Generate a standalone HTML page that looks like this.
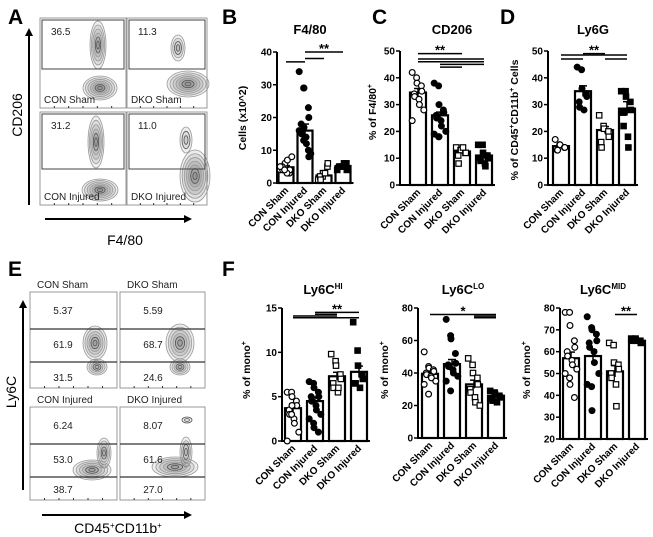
<!DOCTYPE html>
<html><head><meta charset="utf-8"><style>
body{margin:0;background:#fff;}
svg{display:block;font-family:"Liberation Sans",Arial,sans-serif;}
.pl{font-weight:bold;font-size:21px;}
.tk{font-size:10px;font-weight:bold;}
.yt{font-size:10.5px;font-weight:bold;}
.t{font-size:13px;font-weight:bold;}
.fl{font-size:10px;fill:#222;}
.ax{font-size:14px;}
</style></head><body>
<svg id="fig" width="653" height="537" viewBox="0 0 653 537">
<defs><marker id="ar" markerWidth="8" markerHeight="8" refX="6" refY="4" orient="auto" markerUnits="userSpaceOnUse"><path d="M0,0 L8,4 L0,8 z" fill="#000"/></marker></defs>
<text class="pl" x="8" y="24">A</text>
<text class="pl" x="222" y="24">B</text>
<text class="pl" x="372" y="24">C</text>
<text class="pl" x="500" y="24">D</text>
<text class="pl" x="8" y="276">E</text>
<text class="pl" x="222" y="276">F</text>
<g id="flow">
<line x1="29" y1="205" x2="29" y2="30" stroke="#000" stroke-width="2" marker-end="url(#ar)"/>
<line x1="45" y1="219" x2="190" y2="219" stroke="#000" stroke-width="2" marker-end="url(#ar)"/>
<text class="ax" x="22" y="115" text-anchor="middle" transform="rotate(-90 22 115)">CD206</text>
<text class="ax" x="125" y="245" text-anchor="middle">F4/80</text>
<line x1="23" y1="490" x2="23" y2="302" stroke="#000" stroke-width="2" marker-end="url(#ar)"/>
<line x1="42" y1="515" x2="190" y2="515" stroke="#000" stroke-width="2" marker-end="url(#ar)"/>
<text class="ax" x="16" y="392" text-anchor="middle" transform="rotate(-90 16 392)">Ly6C</text>
<text class="ax" x="118" y="533" text-anchor="middle">CD45<tspan font-size="8" dy="-5">+</tspan><tspan dy="5">CD11b</tspan><tspan font-size="8" dy="-5">+</tspan></text>
</g>
<g id="bars"></g>
</svg>
<script>
const categories=["CON Sham","CON Injured","DKO Sham","DKO Injured"];
const bMeans=[4.8,16,2.3,5.2];
const bSem=[0.5,2.0,0.6,0.4];
const bPts=[[4,5,6,3,4,5,4,3,7,8,5,4],[34,29,29,23,20,18,15,14,12,9,16,13,17,10,8],[1,2,3,5,6,2,1,3],[4,5,5,6,4,5,5,6]];
const bTicks=[0,10,20,30,40];
const cMeans=[34.5,26,12.5,11];
const cSem=[1.5,1.2,0.8,0.9];
const cPts=[[42,40,38,37,35,34,33,32,30,28,24],[38,37,30,28,27,26,25,24,22,20,19,18,18],[14,13,13,12,12,11,8,14],[15,15,12,11,10,10,9,8,7]];
const cTicks=[0,10,20,30,40,50];
const dMeans=[14.5,35,20.5,28.5];
const dSem=[0.5,2,1.3,2.6];
const dPts=[[17,15,15,14,14,13,13],[44,43,36,34,33,31,29,28],[26,22,21,20,18,16,14],[35,35,33,31,28,27,22,18,14]];
const dTicks=[0,10,20,30,40,50];
const hiMeans=[3.7,4.5,7.3,7.8];
const hiSem=[0.5,0.45,0.45,0.65];
const hiPts=[[5.5,5.5,5,4.5,4,3.5,3,2.5,2,1,0,3,4],[6.7,6.5,6,5.5,5,5,4.5,4,3.5,3,2.5,2,1.5,1],[9.8,9,8.5,7.5,7,6.5,6,5.5,6],[13.4,10.2,8.5,7.5,7,6.5,6.5,6]];
const hiTicks=[0,5,10,15];
const loMeans=[39.5,45.5,33,26];
const loSem=[1.6,2.8,2.6,0.9];
const loPts=[[53,44,43,42,41,40,39,38,37,35,33,27],[73,63,61,52,46,45,44,42,40,38,35,29],[49,45,40,37,33,30,28,25,22,20],[29,28,27,26,25,24,23,22]];
const loTicks=[0,20,40,60,80];
const midMeans=[57,58,51,65];
const midSem=[2.8,2.8,2.6,0.4];
const midPts=[[78,78,72,65,62,60,58,56,54,52,50,48,45,39],[76,71,70,68,65,64,62,60,55,50,45,44,33],[64,63,55,54,52,50,48,45,35],[66,66,65,65,64,65]];
const midTicks=[20,30,40,50,60,70,80];
const bSig=[[0,1,37,""],[1,3,40,"**"],[1,2,38,""]];
const cSig=[[0,2,49,"**"],[0,3,47,""],[0,3,46,""],[1,3,45,""],[1,2,44,""]];
const dSig=[[0,1,47,""],[0,3,48.5,""],[1,2,49,"**"],[2,3,47,""]];
const hiSig=[[1,3,14.5,"**"],[0,3,13.9,""],[0,2,14.1,""],[1,2,14.3,""]];
const loSig=[[0,3,76,"*"],[2,3,75,""],[2,3,74,""]];
const midSig=[[2,3,77,"**"]];
const aGateValues=["36.5","11.3","31.2","11.0"];
const aSampleLabels=["CON Sham","DKO Sham","CON Injured","DKO Injured"];
const eGateValues=[["5.37","61.9","31.5"],["5.59","68.7","24.6"],["6.24","53.0","38.7"],["8.07","61.6","27.0"]];

const NS="http://www.w3.org/2000/svg";
function mk(parent,tag,attrs){const e=document.createElementNS(NS,tag);for(const k in attrs)e.setAttribute(k,attrs[k]);parent.appendChild(e);return e;}
const barsG=document.getElementById('bars');
const flowG=document.getElementById('flow');

function blob(g,cx,cy,rx,ry,n){
  for(let k=n;k>=1;k--){
    const f=k/n;
    mk(g,'ellipse',{cx:cx,cy:cy,rx:rx*f,ry:ry*f,fill:'rgba(0,0,0,0.07)',stroke:k<=2?'#555':'#999','stroke-width':0.8});
  }
}
function flowBox(x,y,w,h){
  const r=mk(flowG,'rect',{x:x,y:y,width:w,height:h,fill:'#fff',stroke:'#999','stroke-width':1});
  
  
  for(let i=1;i<6;i++){mk(flowG,'line',{x1:x+i*w/6,y1:y+h,x2:x+i*w/6,y2:y+h-2,stroke:'#333','stroke-width':1});}
}
const aBoxes=[[40,18,86,90],[127,18,80,90],[40,112,86,93],[127,112,80,93]];
const aBlobs=[[[98,45,8,24,6],[100,88,17,12,7]],[[178,48,7,13,4],[188,84,21,13,7]],[[96,142,8,26,6],[100,190,18,11,7]],[[195,176,15,26,7],[186,140,6,13,3]]];
aBoxes.forEach((b,i)=>{
  flowBox(b[0],b[1],b[2],b[3]);
  aBlobs[i].forEach(p=>blob(flowG,p[0],p[1],p[2],p[3],p[4]));
  const gate=mk(flowG,'rect',{x:b[0]+2,y:b[1]+2,width:b[2]-4,height:49+(i>1?6:0),fill:'none',stroke:'#444','stroke-width':1});
  
  
  const v=mk(flowG,'text',{x:b[0]+11,y:b[1]+17,class:'fl'});v.textContent=aGateValues[i];
  
  
  const s=mk(flowG,'text',{x:b[0]+4,y:b[1]+b[3]-5,class:'fl'});s.textContent=aSampleLabels[i];
  
  
});
const eBoxes=[[30,292,87,96],[120,292,85,96],[30,407,87,93],[120,407,85,93]];
const eBlobs=[[[95,343,12,17,6],[97,367,10,8,5]],[[180,343,14,19,6],[180,367,10,8,5]],[[104,453,7,15,5],[92,470,19,10,6]],[[186,452,6,15,4],[175,467,23,10,6],[187,420,5,3,2]]];
eBoxes.forEach((b,i)=>{
  flowBox(b[0],b[1],b[2],b[3]);
  eBlobs[i].forEach(p=>blob(flowG,p[0],p[1],p[2],p[3],p[4]));
  const l1=b[1]+37,l2=b[1]+70;
  [l1,l2].forEach(yy=>{const ln=mk(flowG,'line',{x1:b[0],y1:yy,x2:b[0]+b[2],y2:yy,stroke:'#333','stroke-width':1.2});
    
    });
  const ys=[b[1]+22,b[1]+56,b[1]+89-(i>1?3:0)];
  eGateValues[i].forEach((val,k)=>{const t=mk(flowG,'text',{x:b[0]+33,y:ys[k],class:'fl','text-anchor':'middle'});t.textContent=val;
    
    });
  const s=mk(flowG,'text',{x:b[0]+7,y:b[1]-4,class:'fl'});s.textContent=aSampleLabels[i];
  
  
});

function panel(L,means,sem,pts,ticks,sig){
  const g=mk(barsG,'g',{});
  
  
  const ymin=ticks[0],ymax=ticks[ticks.length-1];
  const y=v=>L.y0-(v-ymin)/(ymax-ymin)*(L.y0-L.y1);
  const x=i=>L.x0+L.first+i*L.step;
  const ax=mk(g,'line',{x1:L.x0,y1:L.y0+1,x2:L.x0,y2:L.y1,stroke:'#000','stroke-width':2});
  
  
  const xax=mk(g,'line',{x1:L.x0,y1:L.y0,x2:x(3)+L.bw/2+3,y2:L.y0,stroke:'#000','stroke-width':2});
  
  
  ticks.forEach(t=>{
    mk(g,'line',{x1:L.x0-4,y1:y(t),x2:L.x0,y2:y(t),stroke:'#000','stroke-width':1.5});
    const tx=mk(g,'text',{x:L.x0-5,y:y(t)+3.5,'text-anchor':'end',class:'tk'});
    tx.textContent=t;
    
    
  });
  means.forEach((m,i)=>{
    const r=mk(g,'rect',{x:x(i)-L.bw/2,y:y(m),width:L.bw,height:L.y0-y(m),fill:'#fff',stroke:'#000','stroke-width':2.2});
    
    
    mk(g,'line',{x1:x(i),y1:y(m-sem[i]),x2:x(i),y2:y(m+sem[i]),stroke:'#000','stroke-width':1.5});
    mk(g,'line',{x1:x(i)-4,y1:y(m+sem[i]),x2:x(i)+4,y2:y(m+sem[i]),stroke:'#000','stroke-width':1.5});
    pts[i].forEach((v,j)=>{
      const off=((j%5)-2)*2.4+((j%2)?1:-1);
      const px=x(i)+off,py=y(v);
      const filled=(i%2===1),sq=(i>=2);
      let p;
      if(sq)p=mk(g,'rect',{x:px-2.7,y:py-2.7,width:5.4,height:5.4,fill:filled?'#000':'#fff',stroke:'#000','stroke-width':1.2});
      else p=mk(g,'circle',{cx:px,cy:py,r:2.9,fill:filled?'#000':'#fff',stroke:'#000','stroke-width':1.2});
      
      
    });
    const lx=x(i)+3,ly=L.y0+8;
    const lab=mk(g,'text',{x:lx,y:ly,'text-anchor':'end',class:'tk',transform:`rotate(-45 ${lx} ${ly})`});
    lab.textContent=categories[i];
    
    
  });
  sig.forEach(s=>{
    const ln=mk(g,'line',{x1:x(s[0]),y1:y(s[2]),x2:x(s[1]),y2:y(s[2]),stroke:'#000','stroke-width':1.5});
    
    
    if(s[3]){const st=mk(g,'text',{x:(x(s[0])+x(s[1]))/2,y:y(s[2])+1,'text-anchor':'middle',class:'t'});st.textContent=s[3];
      
      }
  });
  const t=mk(g,'text',{x:L.tx,y:L.ty,'text-anchor':'middle',class:'t'});
  t.innerHTML=L.title;
  
  
  const yl=mk(g,'text',{x:L.yx,y:L.yy,'text-anchor':'middle',class:'yt',transform:`rotate(-90 ${L.yx} ${L.yy})`});
  yl.innerHTML=L.ylab;
  
  
}
const sup=s=>'<tspan dy="-4" font-size="7">'+s+'</tspan>';
panel({name:'chart-f480',x0:277,y0:183,y1:52,first:9,step:19,bw:15,title:'F4/80',tx:310,ty:34,ylab:'Cells (x10^2)',yx:246,yy:118},bMeans,bSem,bPts,bTicks,bSig);
panel({name:'chart-cd206',x0:400,y0:185,y1:51,first:18,step:22,bw:16,title:'CD206',tx:452,ty:34,ylab:'% of F4/80'+sup('+'),yx:376,yy:112},cMeans,cSem,cPts,cTicks,cSig);
panel({name:'chart-ly6g',x0:548,y0:185,y1:51,first:13,step:22,bw:16,title:'Ly6G',tx:593,ty:34,ylab:'% of CD45'+sup('+')+'<tspan dy="4">CD11b</tspan>'+sup('+')+'<tspan dy="4"> Cells</tspan>',yx:518,yy:120},dMeans,dSem,dPts,dTicks,dSig);
panel({name:'chart-ly6c-hi',x0:282,y0:441,y1:308,first:11,step:22,bw:16,title:'Ly6C<tspan dy="-5" font-size="8">HI</tspan>',tx:323,ty:294,ylab:'% of mono'+sup('+'),yx:250,yy:370},hiMeans,hiSem,hiPts,hiTicks,hiSig);
panel({name:'chart-ly6c-lo',x0:418,y0:438,y1:308,first:12,step:22,bw:16,title:'Ly6C<tspan dy="-5" font-size="8">LO</tspan>',tx:463,ty:294,ylab:'% of mono'+sup('+'),yx:388,yy:370},loMeans,loSem,loPts,loTicks,loSig);
panel({name:'chart-ly6c-mid',x0:560,y0:439,y1:308,first:11,step:22,bw:16,title:'Ly6C<tspan dy="-5" font-size="8">MID</tspan>',tx:603,ty:294,ylab:'% of mono'+sup('+'),yx:530,yy:370},midMeans,midSem,midPts,midTicks,midSig);
</script>
</body></html>
